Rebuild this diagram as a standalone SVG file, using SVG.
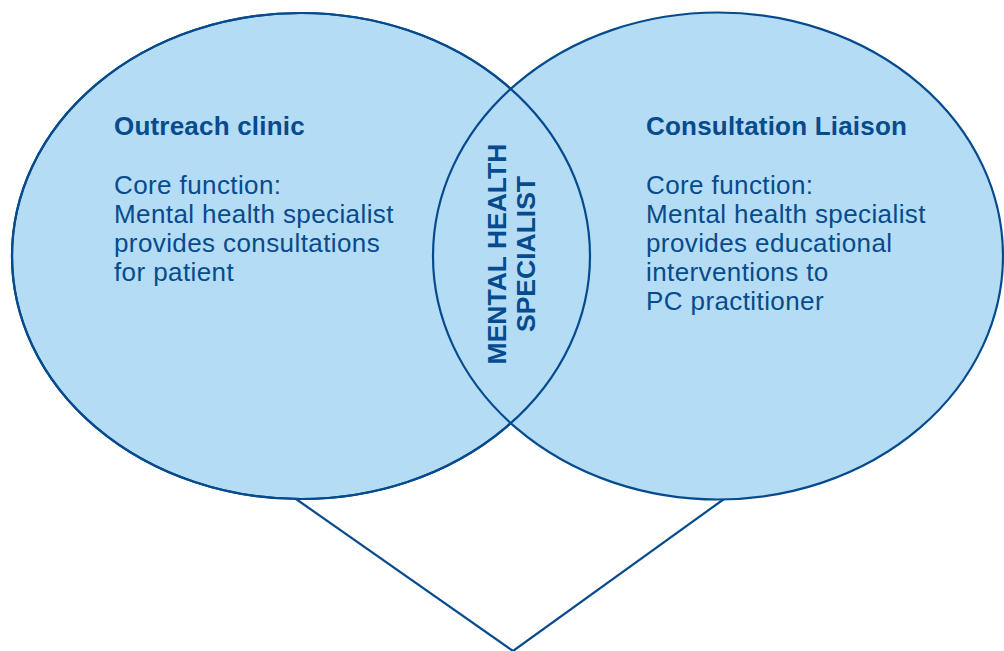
<svg xmlns="http://www.w3.org/2000/svg" width="1004" height="651" viewBox="0 0 1004 651">
  <style>
    .circle { fill: #b4dcf4; stroke: #064b8d; stroke-width: 2.2; }
    .outline { fill: none; stroke: #064b8d; stroke-width: 2.2; }
    .edge { fill: none; stroke: #064b8d; stroke-width: 2.2; }
    .title { font-family: "Liberation Sans", Arial, sans-serif; font-weight: bold; font-size: 26px; letter-spacing: 0.2px; fill: #064b8d; }
    .body { font-family: "Liberation Sans", Arial, sans-serif; font-size: 26px; letter-spacing: 0.4px; fill: #064b8d; }
    .centre { font-family: "Liberation Sans", Arial, sans-serif; font-weight: bold; font-size: 26.5px; fill: #064b8d; text-anchor: middle; }
  </style>

  <!-- connectors joining the two circles below -->
  <g id="connectors">
    <polyline class="edge" points="296,499 513,651 724,499"/>
  </g>

  <!-- left circle: outreach clinic -->
  <g id="outreach-clinic">
    <ellipse class="circle" cx="301" cy="256" rx="289" ry="243"/>
    <text class="title" x="114" y="135">Outreach clinic</text>
    <text class="body" x="114" y="193.5">Core function:</text>
    <text class="body" x="114" y="222.5">Mental health specialist</text>
    <text class="body" x="114" y="251.5">provides consultations</text>
    <text class="body" x="114" y="280.5">for patient</text>
  </g>

  <!-- right circle: consultation liaison -->
  <g id="consultation-liaison">
    <ellipse class="circle" cx="718" cy="256" rx="285" ry="243.5"/>
    <text class="title" x="646" y="135">Consultation Liaison</text>
    <text class="body" x="646" y="193.5">Core function:</text>
    <text class="body" x="646" y="222.5">Mental health specialist</text>
    <text class="body" x="646" y="251.5">provides educational</text>
    <text class="body" x="646" y="280.5">interventions to</text>
    <text class="body" x="646" y="310">PC practitioner</text>
  </g>

  <!-- overlap: left outline redrawn on top of the right fill -->
  <g id="mental-health-specialist">
    <ellipse class="outline" cx="301" cy="256" rx="289" ry="243"/>
    <text class="centre" transform="translate(505.5,254) rotate(-90)">MENTAL HEALTH</text>
    <text class="centre" transform="translate(534.5,254) rotate(-90)">SPECIALIST</text>
  </g>
</svg>
